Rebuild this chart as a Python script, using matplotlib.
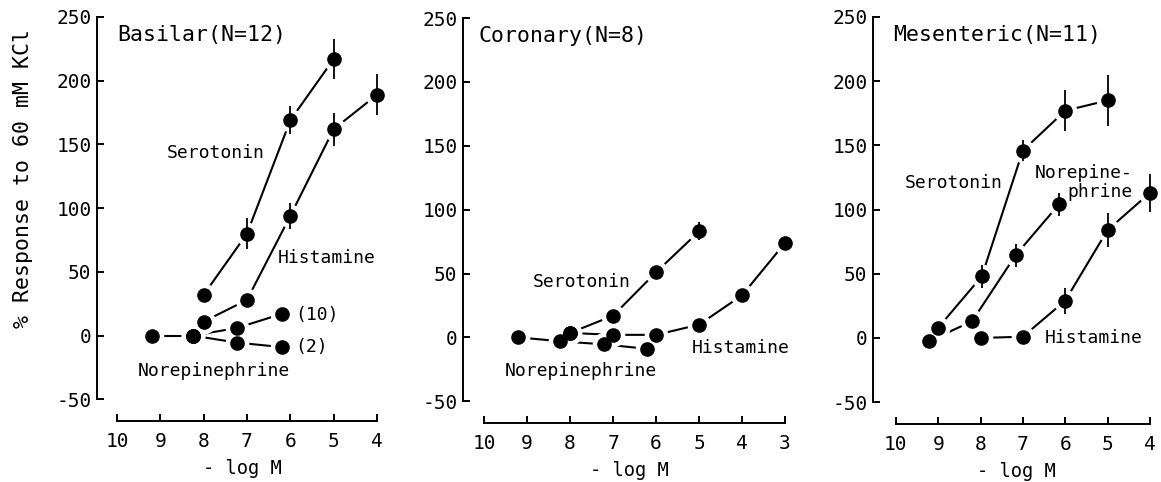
import matplotlib
matplotlib.use("Agg")
import matplotlib.pyplot as plt
import numpy as np

plt.rcParams['font.family'] = ['DejaVu Sans Mono']
plt.rcParams['axes.unicode_minus'] = False

# Basilar (N=12)
bas_ser_x = [8, 7, 6, 5]
bas_ser_y = [32, 80, 169, 217]
bas_ser_e = [0, 12, 11, 16]
bas_his_x = [8, 7, 6, 5, 4]
bas_his_y = [11, 28, 94, 162, 189]
bas_his_e = [0, 0, 10, 13, 16]
bas_ne_x = [9.2, 8.25]
bas_ne_y = [0, 0]
bas_ne10_x = [8.25, 7.23, 6.2]
bas_ne10_y = [0, 6, 17]
bas_ne2_x = [8.25, 7.23, 6.2]
bas_ne2_y = [0, -5.5, -9]

# Coronary (N=8)
cor_ser_x = [8, 7, 6, 5]
cor_ser_y = [3.5, 17, 51, 83]
cor_ser_e = [0, 0, 0, 7]
cor_his_x = [8, 7, 6, 5, 4, 3]
cor_his_y = [3.5, 2, 2, 10, 33, 74]
cor_ne_x = [9.2, 8.23, 7.2, 6.2]
cor_ne_y = [0, -3, -5.5, -9]

# Mesenteric (N=11)
mes_ser_x = [9, 7.97, 7, 6, 5]
mes_ser_y = [8, 48, 146, 177, 185]
mes_ser_e = [0, 9, 8, 16, 20]
mes_ne_x = [9.22, 8.2, 7.17, 6.15]
mes_ne_y = [-2.5, 13, 64.5, 104]
mes_ne_e = [0, 0, 9, 9]
mes_his_x = [8, 7, 6, 5, 4]
mes_his_y = [0, 1, 29, 84, 113]
mes_his_e = [0, 0, 10, 13, 15]

yticks = [-50, 0, 50, 100, 150, 200, 250]

W, H = 1161, 482
fig = plt.figure(figsize=(W / 100, H / 100), dpi=100)


def make_ax(left, right, top, bottom, xl, xr, xmax):
    ax = fig.add_axes([left / W, 1 - bottom / H, (right - left) / W, (bottom - top) / H])
    ax.set_xlim(xl, xr)
    ax.set_ylim(-67, 250)
    ax.spines['top'].set_visible(False)
    ax.spines['right'].set_visible(False)
    ax.spines['left'].set_bounds(-50, 250)
    ax.spines['bottom'].set_bounds(10, xmax)
    for s in ['left', 'bottom']:
        ax.spines[s].set_linewidth(1.4)
    ax.set_yticks(yticks)
    ax.set_xticks(np.arange(xmax, 11, 1))
    ax.tick_params(direction='in', length=5, width=1.4, labelsize=14)
    ax.tick_params(axis='y', pad=4)
    ax.tick_params(axis='x', pad=8)
    ax.set_xlabel('- log M', fontsize=13.5, labelpad=6)
    return ax


def curve(ax, x, y, e=None):
    ax.plot(x, y, color='black', lw=1.5, zorder=1)
    ax.plot(x, y, 'o', ms=16, color='white', mec='white', zorder=2)
    if e is not None:
        ee = np.array(e, dtype=float)
        ax.errorbar(x, y, yerr=ee, fmt='none', ecolor='black', elinewidth=1.3, capsize=0, zorder=3)
    ax.plot(x, y, 'o', ms=9.5, color='black', zorder=4)


ax1 = make_ax(97, 387, 17, 421, 10.46, 3.77, 4)
curve(ax1, bas_ser_x, bas_ser_y, bas_ser_e)
curve(ax1, bas_his_x, bas_his_y, bas_his_e)
curve(ax1, bas_ne_x, bas_ne_y)
curve(ax1, bas_ne10_x, bas_ne10_y)
curve(ax1, bas_ne2_x, bas_ne2_y)
ax1.text(10.0, 236, 'Basilar(N=12)', fontsize=15.5, va='center', ha='left')
ax1.text(8.85, 143, 'Serotonin', fontsize=13, va='center', ha='left')
ax1.text(6.28, 61, 'Histamine', fontsize=13, va='center', ha='left')
ax1.text(5.89, 16.5, '(10)', fontsize=13, va='center', ha='left')
ax1.text(5.89, -9, '(2)', fontsize=13, va='center', ha='left')
ax1.text(9.52, -28, 'Norepinephrine', fontsize=13, va='center', ha='left')

ax2 = make_ax(463, 795, 18, 423, 10.49, 2.77, 3)
curve(ax2, cor_ser_x, cor_ser_y, cor_ser_e)
curve(ax2, cor_his_x, cor_his_y)
curve(ax2, cor_ne_x, cor_ne_y)
ax2.text(10.14, 236, 'Coronary(N=8)', fontsize=15.5, va='center', ha='left')
ax2.text(8.86, 43, 'Serotonin', fontsize=13, va='center', ha='left')
ax2.text(5.16, -8, 'Histamine', fontsize=13, va='center', ha='left')
ax2.text(9.51, -26, 'Norepinephrine', fontsize=13, va='center', ha='left')

ax3 = make_ax(873, 1160, 17, 424, 10.54, 3.76, 4)
curve(ax3, mes_ser_x, mes_ser_y, mes_ser_e)
curve(ax3, mes_ne_x, mes_ne_y, mes_ne_e)
curve(ax3, mes_his_x, mes_his_y, mes_his_e)
ax3.text(10.07, 236, 'Mesenteric(N=11)', fontsize=15.5, va='center', ha='left')
ax3.text(9.79, 121, 'Serotonin', fontsize=13, va='center', ha='left')
ax3.text(4.4, 121, 'Norepine-\nphrine', fontsize=13, va='center', ha='right',
         multialignment='right', linespacing=1.05)
ax3.text(6.48, 0, 'Histamine', fontsize=13, va='center', ha='left')

fig.text(23 / W, 1 - 178 / H, '% Response to 60 mM KCl', rotation=90,
         fontsize=15.5, ha='center', va='center')

fig.savefig('out.png', dpi=100)
